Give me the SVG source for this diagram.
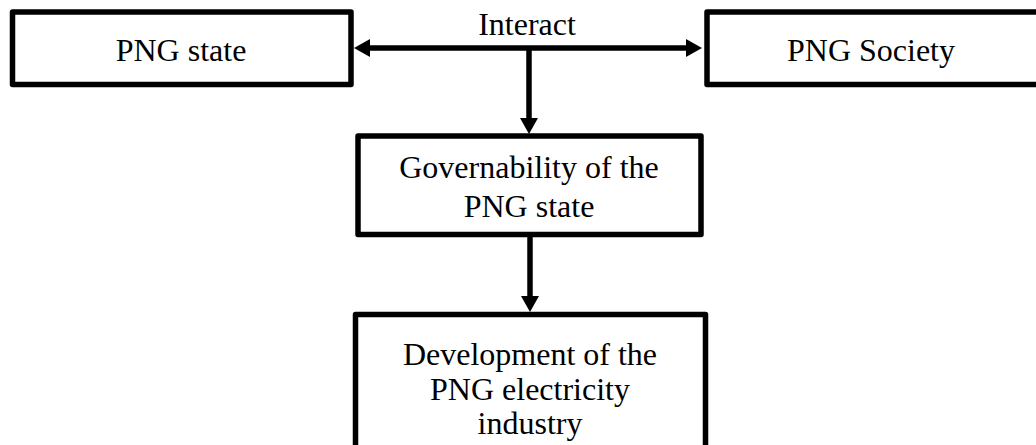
<svg xmlns="http://www.w3.org/2000/svg" width="1036" height="445" viewBox="0 0 1036 445">
<defs>
<style>
.box{fill:#fff;stroke:#000;stroke-width:5.5;stroke-linejoin:round}
.lbl{font-family:"Liberation Serif","Times New Roman",serif;font-size:32px;fill:#000;text-anchor:middle}
.conn{fill:none;stroke:#000;stroke-width:5.5}
</style>
<marker id="ah" markerUnits="userSpaceOnUse" markerWidth="17" markerHeight="18" refX="0" refY="9" orient="auto-start-reverse">
<path d="M0,0 L16,9 L0,18 Z" fill="#000"/>
</marker>
</defs>
<rect width="1036" height="445" fill="#fff"/>
<g id="node-png-state">
<rect class="box" x="12.5" y="12" width="338.5" height="72.5"/>
<text class="lbl" x="181" y="61">PNG state</text>
</g>
<g id="node-png-society">
<rect class="box" x="707" y="12" width="360" height="72.5"/>
<text class="lbl" x="871" y="61">PNG Society</text>
</g>
<g id="node-governability">
<rect class="box" x="358" y="136" width="343" height="98.5"/>
<text class="lbl" x="529" y="178">Governability of the</text>
<text class="lbl" x="529" y="217">PNG state</text>
</g>
<g id="node-development">
<rect class="box" x="355.5" y="314.5" width="350" height="160"/>
<text class="lbl" x="530" y="365">Development of the</text>
<text class="lbl" x="530" y="400">PNG electricity</text>
<text class="lbl" x="530" y="434">industry</text>
</g>
<g id="connectors">
<path class="conn" d="M370,48 L686,48" marker-start="url(#ah)" marker-end="url(#ah)"/>
<text class="lbl" x="527" y="35">Interact</text>
<path class="conn" d="M529,48 L529,118" marker-end="url(#ah)"/>
<path class="conn" d="M530,234.5 L530,296" marker-end="url(#ah)"/>
</g>
</svg>
